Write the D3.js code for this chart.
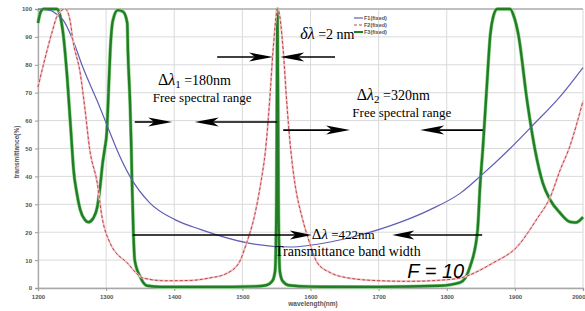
<!DOCTYPE html>
<html><head><meta charset="utf-8">
<script src="https://cdn.jsdelivr.net/npm/d3@7"></script>
<style>body{margin:0;background:#fff;overflow:hidden}</style>
</head><body>
<svg id="c" width="585" height="311"></svg>
<script>
// ---------- data ----------
const xTicks = [1200,1300,1400,1500,1600,1700,1800,1900,2000];
const yTicks = [0,10,20,30,40,50,60,70,80,90,100];
const legendLabels = ["F1(fixed)","F2(fixed)","F3(fixed)"];

const blueWl = [1200,1218,1228,1237,1251,1266,1287,1306,1316,1335,1364,1401,1438,1511,1570,1629,1673,1731,1775,1820,1849,1893,1927,1966,2000];
const blueT  = [100,99.5,98,96,89,79,67,55.5,49.5,40,30.5,24.5,21,16,14.7,16.5,19,23.5,28,34,40,50,58.5,68.5,79];

const redWl = [1200,1210,1221,1229,1240,1247,1251,1262,1269,1276,1287,1294,1306,1331,1354,1386,1423,1452,1475,1495,1506,1517,1527,1534,1540,1545,1552,1560,1565,1571,1577,1588,1599,1610,1629,1658,1702,1746,1790,1820,1868,1903,1933,1952,1966,1981,1991,2000];
const redT  = [72,82,92,98,100,96,89,77,64,49.5,37.6,25.4,16,9,3.6,2.6,2.7,3.6,5,9,16,25,37.6,49.5,67,85,100,85,67,49.5,37.6,25,16,9,5.5,3.5,2.6,2.4,2.8,3.6,9,14.7,25,32.6,42,51,59,67];

const greenWl = [1200,1204,1208,1218,1228,1232,1237,1243,1250,1252,1257,1262,1269,1274,1281,1287,1291,1295,1298,1301,1303,1306,1310,1317,1325,1331,1332,1335,1337,1338,1340,1342,1350,1360,1380,1450,1520,1535,1544,1548,1550,1551.5,1553,1555,1559,1568,1600,1700,1790,1820,1834,1845,1849,1853,1859,1864,1868,1874,1884,1893,1899,1905,1918,1930,1941,1952,1966,1981,1990,1996,2000];
const greenT  = [95,99,100,100,100,98,91,75,50,43,34,28,24.4,23.6,25,29,36,45,50,56,67,85,96,99.6,99,95,85,67,50,38,20,10,4,0.8,0.4,0.4,0.6,1,2.5,6,30,100,30,6,2.5,1,0.5,0.4,0.8,2,7.5,20,37,50,73,91,97,100,100,100,97,91,67,49,37.6,31.5,27,23.7,23.5,24.4,25.4];

// ---------- layout ----------
const m = {l:38, r:583, t:9, b:288};
const svg = d3.select("#c");
const x = d3.scaleLinear().domain([1200,2000]).range([m.l, m.r]);
const y = d3.scaleLinear().domain([0,100]).range([m.b, m.t]);

// grid
svg.append("g").selectAll("line").data(xTicks).join("line")
  .attr("x1", d=>x(d)).attr("x2", d=>x(d)).attr("y1", m.t).attr("y2", m.b)
  .attr("stroke", "#dadada").attr("stroke-width", 1);
svg.append("g").selectAll("line").data(yTicks).join("line")
  .attr("x1", m.l).attr("x2", m.r).attr("y1", d=>y(d)).attr("y2", d=>y(d))
  .attr("stroke", "#dadada").attr("stroke-width", 1);

// frame
svg.append("line").attr("x1", m.l).attr("x2", m.r).attr("y1", m.t).attr("y2", m.t).attr("stroke", "#b0b0b0").attr("stroke-width", 1.5);
// axes
const ax = svg.append("g").attr("transform", `translate(0,${m.b})`)
  .call(d3.axisBottom(x).tickValues(xTicks).tickSize(3).tickFormat(d3.format("d")));
const ay = svg.append("g").attr("transform", `translate(${m.l},0)`)
  .call(d3.axisLeft(y).tickValues(yTicks).tickSize(3).tickFormat(d3.format("d")));
[ax, ay].forEach(g => {
  g.select(".domain").attr("stroke", "#a8a8a8").attr("stroke-width", 1.3);
  g.selectAll(".tick line").attr("stroke", "#999");
  g.selectAll("text").attr("font-family", "Liberation Sans, Arial, sans-serif")
    .attr("font-size", 6).attr("font-weight", "bold").attr("fill", "#555");
});
ax.selectAll("text").attr("dy", "0.9em");
ax.selectAll(".tick").filter(d => d === 2000).select("text").attr("text-anchor", "end").attr("dx", 2);

// axis titles
svg.append("text").attr("x", 313).attr("y", 306).attr("text-anchor", "middle")
  .attr("font-family", "Liberation Sans, Arial, sans-serif").attr("font-size", 6.5).attr("font-weight", "bold")
  .attr("fill", "#555").text("wavelength(nm)");
svg.append("text").attr("transform", "translate(19,152) rotate(-90)").attr("text-anchor", "middle")
  .attr("font-family", "Liberation Sans, Arial, sans-serif").attr("font-size", 6.5).attr("font-weight", "bold")
  .attr("fill", "#555").text("transmittance(%)");

// curves
const line = d3.line().x(d=>x(d[0])).y(d=>y(d[1])).curve(d3.curveMonotoneX);
const zip = (a,b) => a.map((v,i)=>[v,b[i]]);
const blue = zip(blueWl, blueT), red = zip(redWl, redT), green = zip(greenWl, greenT);

svg.append("path").datum(green).attr("d", line).attr("fill","none")
  .attr("stroke", "#8fd88f").attr("stroke-width", 3.6).attr("stroke-linejoin","round");
svg.append("path").datum(green).attr("d", line).attr("fill","none")
  .attr("stroke", "#237d26").attr("stroke-width", 2.4).attr("stroke-linejoin","round");
svg.append("path").datum(blue).attr("d", line).attr("fill","none")
  .attr("stroke", "#5e5eb6").attr("stroke-width", 1.2);
svg.append("path").datum(red).attr("d", line).attr("fill","none")
  .attr("stroke", "#f3c0c6").attr("stroke-width", 2);
svg.append("path").datum(red).attr("d", line).attr("fill","none")
  .attr("stroke", "#b84848").attr("stroke-width", 1).attr("stroke-dasharray", "3,2");

// legend
const legY = [18, 25, 32];
const legStyles = [
  {c:"#5e5eb6", w:1.2, dash:null},
  {c:"#b84848", w:1, dash:"3,2"},
  {c:"#237d26", w:2, dash:null}
];
legendLabels.forEach((t,i) => {
  svg.append("line").attr("x1", 354).attr("x2", 363).attr("y1", legY[i]).attr("y2", legY[i])
    .attr("stroke", legStyles[i].c).attr("stroke-width", legStyles[i].w).attr("stroke-dasharray", legStyles[i].dash);
  svg.append("text").attr("x", 364).attr("y", legY[i]+2).attr("font-family", "Liberation Sans, Arial, sans-serif")
    .attr("font-size", 5.5).attr("font-weight", "bold").attr("fill", "#555").text(t);
});

// ---------- annotations (data coordinates) ----------
function arrow(x0, x1, yv, head=22) {
  const px0 = x(x0), px1 = x(x1), py = y(yv);
  const dir = Math.sign(px1 - px0);
  svg.append("line").attr("x1", px0).attr("x2", px1 - dir*head*0.5).attr("y1", py).attr("y2", py)
    .attr("stroke", "#000").attr("stroke-width", 1.6);
  svg.append("path").attr("d", `M${px1},${py} L${px1 - dir*head},${py-4.5} L${px1 - dir*head*0.75},${py} L${px1 - dir*head},${py+4.5} Z`)
    .attr("fill", "#000");
}
const serif = "Liberation Serif, Times New Roman, serif";
// delta lambda = 2 nm
arrow(1463, 1545, 82.8, 24);
arrow(1636, 1555.5, 82.8, 24);
const t1 = svg.append("text").attr("x", x(1585)).attr("y", y(89.2)).attr("font-family", serif).attr("font-size", 16);
t1.append("tspan").attr("font-style", "italic").text("δλ");
t1.append("tspan").attr("font-size", 14).text(" =2 nm");

// FSR 1
arrow(1342, 1397, 59.5, 24);
arrow(1551, 1430, 59.5, 24);
const t2 = svg.append("text").attr("x", x(1376)).attr("y", y(72.8)).attr("font-family", serif).attr("font-size", 16);
t2.append("tspan").text("Δ");
t2.append("tspan").attr("font-style", "italic").text("λ");
t2.append("tspan").attr("font-size", 11).attr("dy", 3).text("1");
t2.append("tspan").attr("font-size", 14).attr("dy", -3).text(" =180nm");
svg.append("text").attr("x", x(1441)).attr("y", y(66.7)).attr("text-anchor", "middle")
  .attr("font-family", serif).attr("font-size", 13).text("Free spectral range");

// FSR 2
arrow(1560, 1658, 56.6, 24);
arrow(1853, 1761, 56.6, 24);
const t3 = svg.append("text").attr("x", x(1668)).attr("y", y(67.4)).attr("font-family", serif).attr("font-size", 16);
t3.append("tspan").text("Δ");
t3.append("tspan").attr("font-style", "italic").text("λ");
t3.append("tspan").attr("font-size", 11).attr("dy", 3).text("2");
t3.append("tspan").attr("font-size", 14).attr("dy", -3).text(" =320nm");
svg.append("text").attr("x", x(1734)).attr("y", y(61.3)).attr("text-anchor", "middle")
  .attr("font-family", serif).attr("font-size", 13).text("Free spectral range");

// band width
arrow(1339, 1602, 19, 22);
arrow(1852, 1720, 19, 22);
const t4 = svg.append("text").attr("x", x(1602)).attr("y", y(17.6)).attr("font-family", serif).attr("font-size", 15);
t4.append("tspan").text("Δ");
t4.append("tspan").attr("font-style", "italic").text("λ");
t4.append("tspan").attr("font-size", 13).text(" =422nm");
svg.append("text").attr("x", x(1548)).attr("y", y(11.5)).attr("font-family", serif).attr("font-size", 14)
  .text("Transmittance band width");
svg.append("text").attr("x", x(1742)).attr("y", y(3.6)).attr("font-family", "Liberation Sans, Arial, sans-serif")
  .attr("font-size", 20).attr("font-style", "italic").text("F = 10");
</script>
</body></html>
